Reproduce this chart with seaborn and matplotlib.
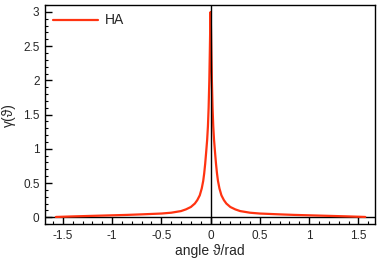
import matplotlib
matplotlib.use("Agg")
import matplotlib.pyplot as plt
from matplotlib.ticker import MultipleLocator
import numpy as np
import pandas as pd
import seaborn as sns

# read-off values (symmetric curve)
half_x = [0.0, 0.004, 0.008, 0.013, 0.02, 0.027, 0.035, 0.045, 0.055, 0.065, 0.075, 0.09,
          0.11, 0.135, 0.16, 0.2, 0.25, 0.3, 0.4, 0.5, 0.7, 0.85, 1.0, 1.2, 1.4, 1.57]
half_y = [3.0, 2.75, 2.4, 2.0, 1.6, 1.33, 1.13, 0.95, 0.78, 0.64, 0.53, 0.42,
          0.32, 0.25, 0.2, 0.15, 0.115, 0.09, 0.066, 0.054, 0.042, 0.034, 0.028, 0.02, 0.012, 0.004]

angle = [-v for v in half_x[:0:-1]] + half_x
gamma = half_y[:0:-1] + half_y
series = ["HA"] * len(angle)

df = pd.DataFrame({"angle": angle, "gamma": gamma, "series": series})

sns.set_style("ticks")
plt.rcParams["font.family"] = ["Liberation Sans", "DejaVu Sans"]

fig = plt.figure(figsize=(3.82, 2.69), dpi=100)
ax = fig.add_axes([0.118, 0.167, 0.864, 0.814])

ax.axhline(0, color="black", lw=1.0, zorder=1)
ax.axvline(0, color="black", lw=1.0, zorder=3)
sns.lineplot(data=df, x="angle", y="gamma", hue="series", palette=["#ff3311"],
             lw=1.6, ax=ax, zorder=2, sort=False)

ax.set_xlim(-1.68, 1.67)
ax.set_ylim(-0.1, 3.1)
ax.xaxis.set_major_locator(MultipleLocator(0.5))
ax.xaxis.set_minor_locator(MultipleLocator(0.1))
ax.yaxis.set_major_locator(MultipleLocator(0.5))
ax.yaxis.set_minor_locator(MultipleLocator(0.1))
ax.set_xticks([-1.5, -1, -0.5, 0, 0.5, 1, 1.5])
ax.set_xticklabels(["-1.5", "-1", "-0.5", "0", "0.5", "1", "1.5"])
ax.set_yticks([0, 0.5, 1, 1.5, 2, 2.5, 3])
ax.set_yticklabels(["0", "0.5", "1", "1.5", "2", "2.5", "3"])
ax.tick_params(which="major", direction="in", length=5, width=1, labelsize=8.5, color="black", pad=4)
ax.tick_params(which="minor", direction="in", length=2.5, width=0.8, color="black")
for s in ax.spines.values():
    s.set_color("black")
    s.set_linewidth(1.0)

ax.set_xlabel("angle ϑ/rad", fontsize=10, labelpad=2)
ax.set_ylabel("γ(ϑ)", fontsize=10, labelpad=5)

leg = ax.legend(loc="upper left", frameon=False, fontsize=10, handlelength=3.2,
                borderaxespad=0.2, handletextpad=0.5)
leg.set_title(None)

fig.savefig("out.png", dpi=100)
